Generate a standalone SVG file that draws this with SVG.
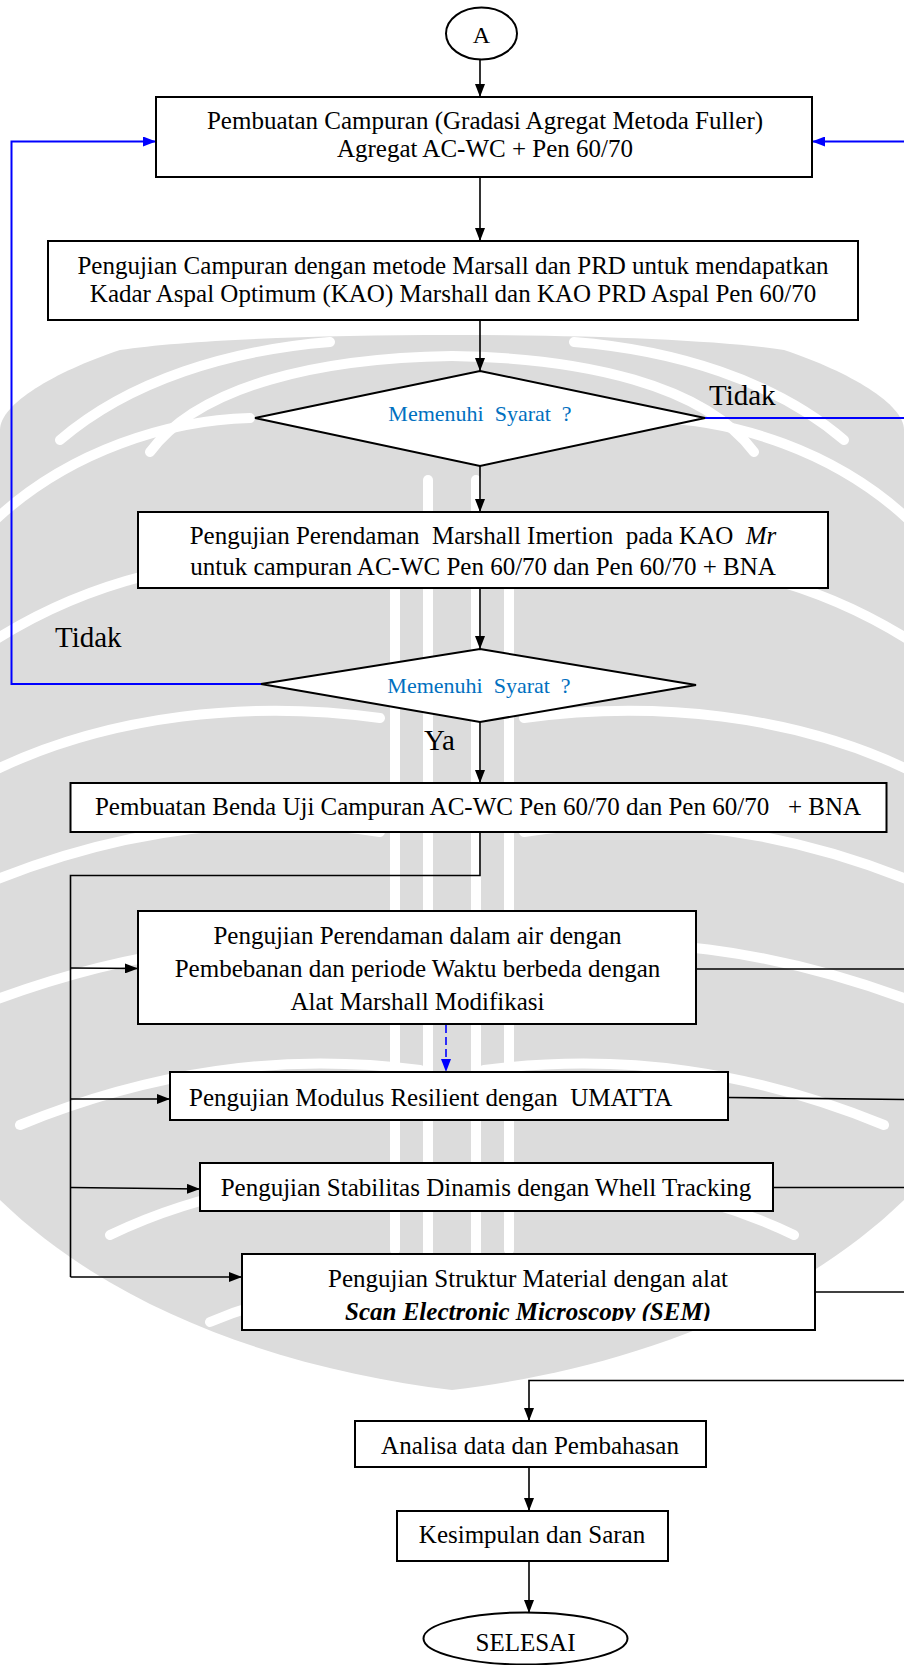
<svg xmlns="http://www.w3.org/2000/svg" width="904" height="1665" viewBox="0 0 904 1665">
  <style>
    .box { fill: #ffffff; stroke: #000000; stroke-width: 2; }
    .txt { font-family: "Liberation Serif", "Times New Roman", serif; font-size: 25px; fill: #000000; }
    .mid { text-anchor: middle; }
    .cond { font-family: "Liberation Serif", "Times New Roman", serif; font-size: 22px; fill: #0070C0; text-anchor: middle; }
    .lbl { font-family: "Liberation Serif", "Times New Roman", serif; font-size: 29px; fill: #000000; }
    .flow { fill: none; stroke: #000000; stroke-width: 1.6; }
    .loop { fill: none; stroke: #0000ff; stroke-width: 2; }
    .dash { fill: none; stroke: #0000ff; stroke-width: 1.6; stroke-dasharray: 8 4; }
    .gap { fill: none; stroke: #ffffff; stroke-width: 10; stroke-linecap: round; }
  </style>
  <defs>
    <marker id="ah" viewBox="0 0 10 10" refX="10" refY="5" markerWidth="13" markerHeight="10" markerUnits="userSpaceOnUse" preserveAspectRatio="none" orient="auto">
      <path d="M0,0 L10,5 L0,10 z" fill="#000000"/>
    </marker>
    <marker id="ahb" viewBox="0 0 10 10" refX="10" refY="5" markerWidth="13" markerHeight="10" markerUnits="userSpaceOnUse" preserveAspectRatio="none" orient="auto">
      <path d="M0,0 L10,5 L0,10 z" fill="#0000ff"/>
    </marker>
    <clipPath id="clip3"><rect x="138" y="512" width="690" height="65.5"/></clipPath>
    <clipPath id="clip8"><rect x="242" y="1254" width="573" height="67"/></clipPath>
    <!-- one half of the striped emblem; mirrored for the other half -->
    <g id="emblem-half">
      <path class="gap" d="M150,452 C200,385 320,358 452,356"/>
      <path class="gap" d="M60,440 C130,380 230,350 330,342"/>
      <path class="gap" d="M-5,520 C70,450 170,420 250,418"/>
      <path class="gap" d="M-5,640 C90,580 200,555 300,560"/>
      <path class="gap" d="M-5,770 C110,715 250,700 380,718"/>
      <path class="gap" d="M-5,880 C120,830 250,812 380,832"/>
      <path class="gap" d="M-5,1000 C130,950 260,932 400,950"/>
      <path class="gap" d="M20,1125 C150,1072 280,1052 420,1070"/>
      <path class="gap" d="M110,1235 C200,1192 300,1172 430,1182"/>
      <path class="gap" d="M210,1322 C280,1292 360,1282 440,1292"/>
      <path class="gap" d="M428,480 L428,1300"/>
      <path class="gap" d="M395,560 L395,1250"/>
    </g>
  </defs>

  <rect x="0" y="0" width="904" height="1665" fill="#ffffff"/>

  <!-- faint striped emblem behind the chart -->
  <g id="watermark">
    <path d="M120,350 C250,330 654,330 784,350 C850,372 904,404 904,430 L904,1200 C780,1320 600,1372 452,1390 C304,1372 124,1320 0,1200 L0,430 C0,404 54,372 120,350 Z" fill="#dcdcdc"/>
    <use href="#emblem-half"/>
    <use href="#emblem-half" transform="translate(904,0) scale(-1,1)"/>
  </g>

  <!-- connectors -->
  <g id="connectors">
    <line class="flow" x1="480" y1="60" x2="480" y2="97" marker-end="url(#ah)"/>
    <line class="flow" x1="480" y1="177" x2="480" y2="241" marker-end="url(#ah)"/>
    <line class="flow" x1="480" y1="320" x2="480" y2="371" marker-end="url(#ah)"/>
    <line class="flow" x1="480" y1="466" x2="480" y2="512" marker-end="url(#ah)"/>
    <line class="flow" x1="480" y1="588" x2="480" y2="649" marker-end="url(#ah)"/>
    <line class="flow" x1="480" y1="722" x2="480" y2="783" marker-end="url(#ah)"/>
    <!-- split to the four tests -->
    <polyline class="flow" points="480,832 480,875.5 70.5,875.5 70.5,1277"/>
    <line class="flow" x1="70.5" y1="968" x2="138" y2="968.5" marker-end="url(#ah)"/>
    <line class="flow" x1="70.5" y1="1099" x2="170" y2="1099" marker-end="url(#ah)"/>
    <line class="flow" x1="70.5" y1="1187.5" x2="200" y2="1189" marker-end="url(#ah)"/>
    <line class="flow" x1="70.5" y1="1277" x2="242" y2="1277" marker-end="url(#ah)"/>
    <!-- outputs to the right-hand collector -->
    <line class="flow" x1="696" y1="969" x2="906" y2="969"/>
    <line class="flow" x1="728" y1="1097.5" x2="906" y2="1099.5"/>
    <line class="flow" x1="773" y1="1187.5" x2="906" y2="1187.5"/>
    <line class="flow" x1="815" y1="1292" x2="906" y2="1292"/>
    <polyline class="flow" points="906,1380.5 529,1380.5 529,1421" marker-end="url(#ah)"/>
    <line class="flow" x1="529" y1="1467" x2="529" y2="1511" marker-end="url(#ah)"/>
    <line class="flow" x1="529" y1="1561" x2="529" y2="1613" marker-end="url(#ah)"/>
    <!-- dashed link between the first two tests -->
    <line class="dash" x1="446" y1="1025" x2="446" y2="1072" marker-end="url(#ahb)"/>
    <!-- retry loops -->
    <polyline class="loop" points="705,418 906,418 906,141.5 812,141.5" marker-end="url(#ahb)"/>
    <polyline class="loop" points="261,684 11.5,684 11.5,141.5 156,141.5" marker-end="url(#ahb)"/>
  </g>

  <g id="start">
    <ellipse cx="481.5" cy="33.5" rx="35.5" ry="26" class="box"/>
    <text x="481.5" y="42.5" class="txt mid" style="font-size:24px">A</text>
  </g>

  <g id="mix">
    <rect x="156" y="97" width="656" height="80" class="box"/>
    <text x="485" y="129" class="txt mid">Pembuatan Campuran (Gradasi Agregat Metoda Fuller)</text>
    <text x="485" y="157" class="txt mid">Agregat AC-WC + Pen 60/70</text>
  </g>

  <g id="kao">
    <rect x="48" y="241" width="810" height="79" class="box"/>
    <text x="453" y="274" class="txt mid">Pengujian Campuran dengan metode Marsall dan PRD untuk mendapatkan</text>
    <text x="453" y="302" class="txt mid">Kadar Aspal Optimum (KAO) Marshall dan KAO PRD Aspal Pen 60/70</text>
  </g>

  <g id="check1">
    <polygon points="480,371 705,418 480,466 255,418" class="box"/>
    <text x="480" y="421" class="cond" xml:space="preserve">Memenuhi  Syarat  ?</text>
    <text x="709" y="405" class="lbl">Tidak</text>
  </g>

  <g id="immersion">
    <rect x="138" y="512" width="690" height="76" class="box"/>
    <g clip-path="url(#clip3)">
      <text x="483" y="543.5" class="txt mid" xml:space="preserve">Pengujian Perendaman  Marshall Imertion  pada KAO  <tspan font-style="italic">Mr</tspan></text>
      <text x="483" y="575" class="txt mid">untuk campuran AC-WC Pen 60/70 dan Pen 60/70 + BNA</text>
    </g>
  </g>

  <g id="check2">
    <polygon points="480,649 696,685 480,722 261,684" class="box"/>
    <text x="479" y="692.5" class="cond" xml:space="preserve">Memenuhi  Syarat  ?</text>
    <text x="55" y="646.5" class="lbl">Tidak</text>
    <text x="424" y="750" class="lbl">Ya</text>
  </g>

  <g id="specimen">
    <rect x="70.5" y="783" width="816" height="49" class="box"/>
    <text x="478" y="815" class="txt mid" xml:space="preserve">Pembuatan Benda Uji Campuran AC-WC Pen 60/70 dan Pen 60/70   + BNA</text>
  </g>

  <g id="soak-test">
    <rect x="138" y="911" width="558" height="113" class="box"/>
    <text x="417.5" y="943.5" class="txt mid">Pengujian Perendaman dalam air dengan</text>
    <text x="417.5" y="976.5" class="txt mid">Pembebanan dan periode Waktu berbeda dengan</text>
    <text x="417.5" y="1009.5" class="txt mid">Alat Marshall Modifikasi</text>
  </g>

  <g id="modulus-test">
    <rect x="170" y="1072" width="558" height="48" class="box"/>
    <text x="189" y="1106" class="txt" xml:space="preserve">Pengujian Modulus Resilient dengan  UMATTA</text>
  </g>

  <g id="tracking-test">
    <rect x="200" y="1163" width="573" height="48" class="box"/>
    <text x="486" y="1195.5" class="txt mid">Pengujian Stabilitas Dinamis dengan Whell Tracking</text>
  </g>

  <g id="sem-test">
    <rect x="242" y="1254" width="573" height="76" class="box"/>
    <g clip-path="url(#clip8)">
      <text x="528" y="1287" class="txt mid">Pengujian Struktur Material dengan alat</text>
      <text x="528" y="1319.5" class="txt mid" font-weight="bold" font-style="italic">Scan Electronic Microscopy (SEM)</text>
    </g>
  </g>

  <g id="analysis">
    <rect x="355" y="1421" width="351" height="46" class="box"/>
    <text x="530" y="1454" class="txt mid">Analisa data dan Pembahasan</text>
  </g>

  <g id="conclusion">
    <rect x="397" y="1511" width="271" height="50" class="box"/>
    <text x="532" y="1543" class="txt mid">Kesimpulan dan Saran</text>
  </g>

  <g id="end">
    <ellipse cx="525.5" cy="1638.5" rx="102" ry="26" class="box"/>
    <text x="525.5" y="1651" class="txt mid">SELESAI</text>
  </g>
</svg>
